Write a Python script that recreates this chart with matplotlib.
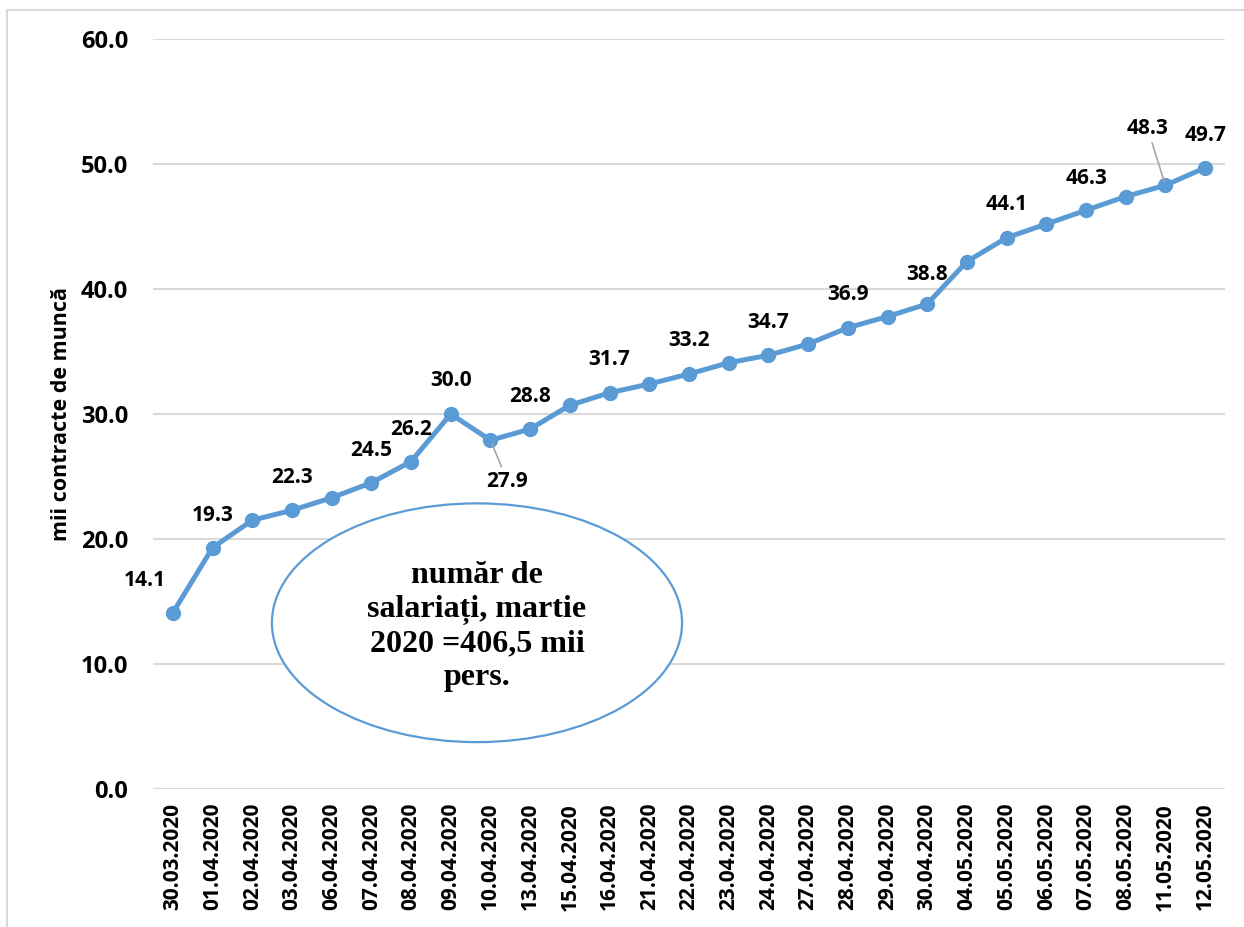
import matplotlib
matplotlib.use('Agg')
import matplotlib.pyplot as plt
from matplotlib.patches import Ellipse, Rectangle

dates = ['30.03.2020', '01.04.2020', '02.04.2020', '03.04.2020', '06.04.2020',
         '07.04.2020', '08.04.2020', '09.04.2020', '10.04.2020', '13.04.2020',
         '15.04.2020', '16.04.2020', '21.04.2020', '22.04.2020', '23.04.2020',
         '24.04.2020', '27.04.2020', '28.04.2020', '29.04.2020', '30.04.2020',
         '04.05.2020', '05.05.2020', '06.05.2020', '07.05.2020', '08.05.2020',
         '11.05.2020', '12.05.2020']
values = [14.1, 19.3, 21.5, 22.3, 23.3, 24.5, 26.2, 30.0, 27.9, 28.8,
          30.7, 31.7, 32.4, 33.2, 34.1, 34.7, 35.6, 36.9, 37.8, 38.8,
          42.2, 44.1, 45.2, 46.3, 47.4, 48.3, 49.7]
# which points get a value label: index -> offset in pixels (dx, dy)
labelled = {0: (-28, 32), 1: (0, 32), 3: (0, 33), 5: (0, 32), 6: (0, 32),
            7: (0, 34), 8: (17, -41), 9: (0, 32), 11: (0, 33), 13: (0, 33),
            15: (0, 33), 17: (0, 33), 19: (0, 30), 21: (0, 33), 23: (0, 32),
            25: (-18, 57), 26: (0, 32)}
leaders = [8, 25]
yticks = [0, 10, 20, 30, 40, 50, 60]

blue = '#5B9BD5'
grid = '#D9D9D9'
font = 'Open Sans'

W, H = 1244, 927
fig = plt.figure(figsize=(W / 100, H / 100), dpi=100)
# chart border (only top and left edges fall inside the picture)
fig.patches.append(Rectangle((7 / W, -0.1), 1.2, 1.1 - 10 / H, transform=fig.transFigure,
                             fill=False, edgecolor=grid, linewidth=1.5))

ax = fig.add_axes([153 / W, (H - 789) / H, (1225 - 153) / W, (789 - 39) / H])
x = list(range(len(dates)))
ax.plot(x, values, color=blue, linewidth=3.6, marker='o', markersize=10,
        zorder=3, clip_on=False)

ax.set_xlim(-0.5, len(dates) - 0.5)
ax.set_ylim(0, 60)
ax.set_yticks(yticks)
ax.set_yticklabels(['%.1f' % v for v in yticks], fontfamily=font,
                   fontweight='bold', fontsize=17)
ax.set_xticks(x)
ax.set_xticklabels(dates, rotation=90, fontfamily=font, fontweight='bold',
                   fontsize=15)
ax.tick_params(axis='both', length=0)
ax.tick_params(axis='y', pad=18)
ax.tick_params(axis='x', pad=10)
ax.grid(axis='y', color=grid, linewidth=1.5)
ax.set_axisbelow(True)
for s in ax.spines.values():
    s.set_visible(False)

ax.set_ylabel('mii contracte de muncă', fontfamily=font, fontweight='bold',
              fontsize=15.5, labelpad=6)

for i, (dx, dy) in labelled.items():
    arrow = None
    if i in leaders:
        arrow = dict(arrowstyle='-', color='#A6A6A6', lw=1.2, shrinkA=1, shrinkB=3)
    ax.annotate('%.1f' % values[i], (x[i], values[i]), xytext=(dx, dy),
                textcoords='offset pixels', ha='center', va='center',
                fontfamily=font, fontweight='bold', fontsize=15,
                arrowprops=arrow)

# callout ellipse
ell = Ellipse((7.66, 13.3), 10.33, 19.1, facecolor='white', edgecolor=blue,
              linewidth=1.6, zorder=4)
ax.add_patch(ell)
ax.text(7.66, 13.0, 'număr de\nsalariați, martie\n2020 =406,5 mii\npers.',
        ha='center', va='center', fontfamily='Liberation Serif',
        fontweight='bold', fontsize=23, linespacing=1.2, zorder=5)

fig.savefig('out.png', dpi=100)
